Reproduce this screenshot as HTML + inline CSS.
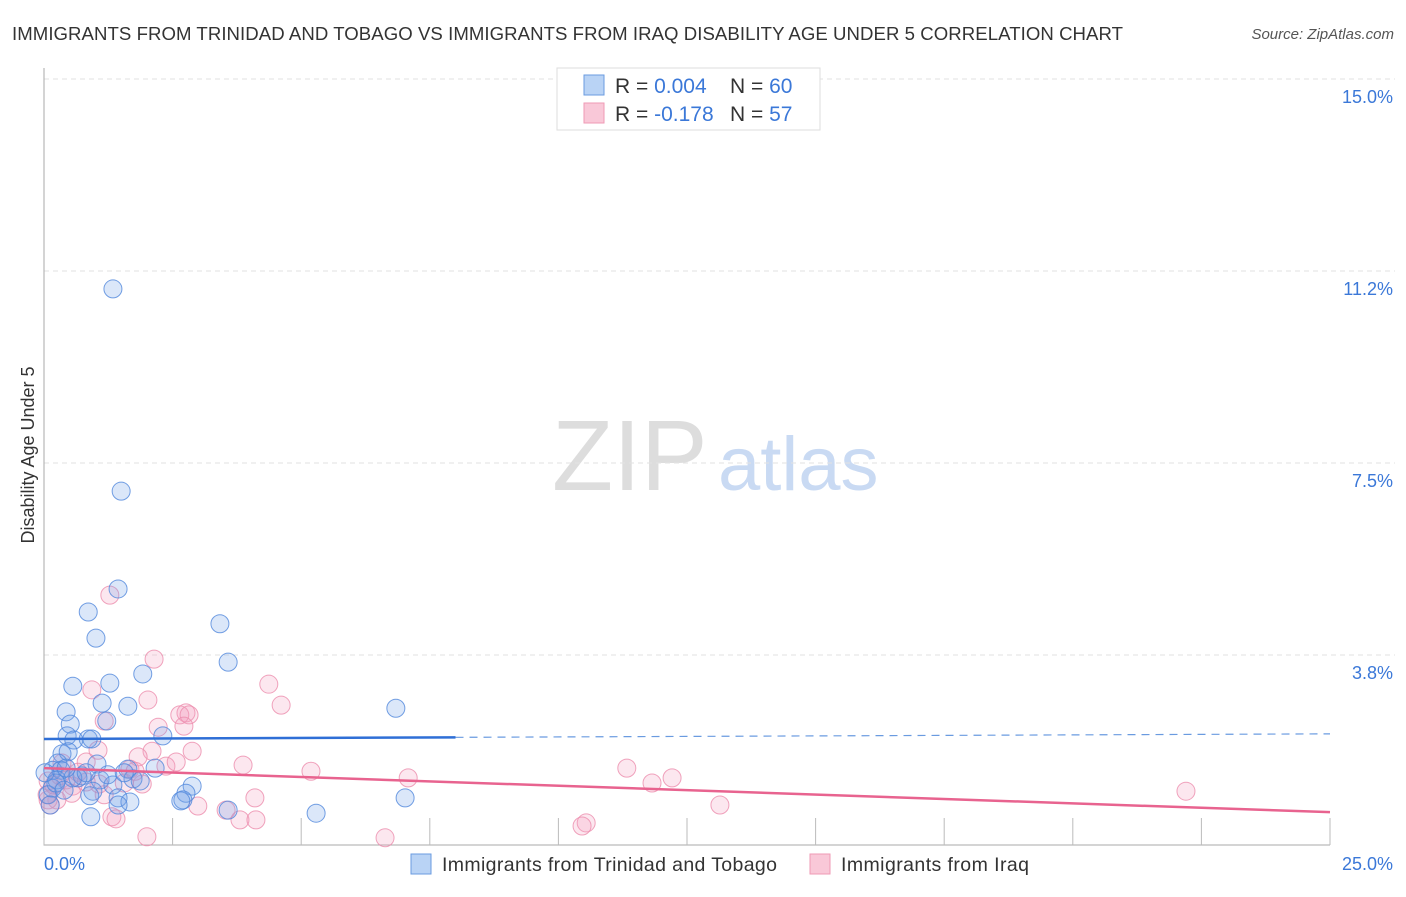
<!DOCTYPE html>
<html><head><meta charset="utf-8"><style>
body{margin:0;background:#fff;font-family:"Liberation Sans",sans-serif;}
svg text{font-family:"Liberation Sans",sans-serif;}
</style></head><body>
<svg id="chart" width="1406" height="892">
<text x="12" y="40" font-size="18.6" fill="#333" textLength="1111">IMMIGRANTS FROM TRINIDAD AND TOBAGO VS IMMIGRANTS FROM IRAQ DISABILITY AGE UNDER 5 CORRELATION CHART</text>
<text x="1394" y="39" font-size="15" fill="#555" font-style="italic" text-anchor="end">Source: ZipAtlas.com</text>
<text transform="translate(34,455) rotate(-90)" font-size="18" fill="#333" text-anchor="middle">Disability Age Under 5</text>
<g><text x="552" y="490" font-size="100" font-family="Liberation Serif" fill="#ddd">ZIP</text><text x="718" y="490" font-size="76" fill="#c9daf3">atlas</text></g>
<g id="grid"></g><g id="axes"></g><g id="pts"></g><g id="lines"></g>
<g>
<rect x="557" y="68" width="263" height="62" fill="#fff" stroke="#ddd"/>
<rect x="584" y="75" width="20" height="20" fill="#b9d3f5" stroke="#6a9be0"/>
<rect x="584" y="103" width="20" height="20" fill="#f9c8d8" stroke="#ef9ab5"/>
<text x="615" y="93" font-size="21" fill="#333">R = <tspan fill="#3b78d8">0.004</tspan><tspan x="730">N = </tspan><tspan fill="#3b78d8">60</tspan></text>
<text x="615" y="121" font-size="21" fill="#333">R = <tspan fill="#3b78d8">-0.178</tspan><tspan x="730">N = </tspan><tspan fill="#3b78d8"> 57</tspan></text>
</g>
<g>
<rect x="411" y="854" width="20" height="20" fill="#b9d3f5" stroke="#6a9be0"/>
<text x="442" y="871" font-size="19.5" fill="#333" textLength="335">Immigrants from Trinidad and Tobago</text>
<rect x="810" y="854" width="20" height="20" fill="#f9c8d8" stroke="#ef9ab5"/>
<text x="841" y="871" font-size="19.5" fill="#333" textLength="188">Immigrants from Iraq</text>
</g>
</svg>
<script>
const yTicks=[3.75,7.5,11.25,15];
const yTickLabels=["3.8%","7.5%","11.2%","15.0%"];
const xTicks=[0,2.5,5,7.5,10,12.5,15,17.5,20,22.5,25];
const blueX=[1.34,1.50,1.44,0.86,1.01,3.42,3.58,1.92,0.56,1.28,1.13,1.63,0.43,0.51,1.22,6.84,0.45,0.86,0.93,0.58,0.35,0.47,0.27,1.03,0.17,1.63,0.33,0.74,1.09,0.66,1.73,2.31,2.88,2.76,2.70,1.34,0.95,0.89,0.16,0.08,0.25,1.44,1.67,2.66,3.58,5.29,7.02,0.91,1.44,0.56,0.82,0.12,0.23,0.43,0.02,1.87,2.16,1.24,1.56,0.39];
const blueY=[10.90,6.95,5.04,4.59,4.08,4.36,3.61,3.38,3.14,3.20,2.81,2.75,2.64,2.40,2.46,2.71,2.17,2.11,2.11,2.09,1.82,1.86,1.64,1.62,1.50,1.52,1.50,1.39,1.31,1.35,1.33,2.17,1.19,1.05,0.92,1.21,1.09,1.00,1.15,1.02,1.31,0.96,0.88,0.90,0.72,0.66,0.96,0.59,0.82,1.35,1.45,0.82,1.25,1.54,1.45,1.29,1.54,1.41,1.45,1.11];
const pinkX=[1.28,2.14,0.93,2.02,4.37,4.61,2.76,2.22,1.17,2.64,2.82,2.72,2.88,2.10,1.83,2.37,2.57,3.87,5.19,7.08,11.33,11.82,12.21,22.20,13.14,10.54,10.46,6.63,2.00,3.81,3.54,4.12,4.10,2.99,1.32,1.40,1.91,1.56,1.07,0.56,0.25,0.08,0.12,0.06,0.19,0.31,0.82,0.54,0.82,1.05,1.67,1.77,0.35,0.08,0.43,1.17,0.66];
const pinkY=[4.92,3.67,3.07,2.87,3.18,2.77,2.62,2.34,2.46,2.58,2.58,2.36,1.87,1.87,1.76,1.58,1.66,1.60,1.48,1.35,1.54,1.25,1.35,1.09,0.82,0.47,0.41,0.18,0.20,0.53,0.72,0.53,0.96,0.80,0.59,0.55,1.23,1.25,1.23,1.19,0.92,0.92,0.82,1.02,1.21,1.39,1.27,1.05,1.66,1.89,1.52,1.48,1.64,1.29,1.31,1.02,1.46];
const blueFit=[2.11,0.004];
const pinkFit=[1.54,-0.0344];
const NS="http://www.w3.org/2000/svg";
const X0=44,X1=1330,Y0=847,YS=192/3.75;
const sx=v=>X0+(v/25)*(X1-X0), sy=v=>Y0-v*YS;
function mk(t,a,p){const e=document.createElementNS(NS,t);for(const k in a)e.setAttribute(k,a[k]);p.appendChild(e);return e;}
const grid=document.getElementById('grid'),axes=document.getElementById('axes');
yTicks.forEach((t,i)=>{
 const l=mk('line',{x1:X0,x2:1395,y1:sy(t),y2:sy(t),stroke:'#e2e2e2','stroke-dasharray':'5,4'},grid);
 
 
 const tx=mk('text',{x:1393,y:sy(t)+24,'font-size':18,fill:'#3b78d8','text-anchor':'end'},grid);
 tx.textContent=yTickLabels[i];
 
 
});
const ax=mk('path',{d:`M${X0} 68V845H${X1}`,stroke:'#aaa',fill:'none'},axes);


xTicks.forEach(t=>{
 const l=mk('line',{x1:sx(t),x2:sx(t),y1:818,y2:845,stroke:'#bbb'},axes);
 
 
});
const xl0=mk('text',{x:44,y:870,'font-size':18,fill:'#3b78d8'},axes);xl0.textContent="0.0%";


const xl1=mk('text',{x:1393,y:870,'font-size':18,fill:'#3b78d8','text-anchor':'end'},axes);xl1.textContent="25.0%";


const pts=document.getElementById('pts');
pinkX.forEach((v,i)=>{const c=mk('circle',{cx:sx(v),cy:sy(pinkY[i]),r:9,fill:'rgba(244,160,190,0.25)',stroke:'rgba(236,140,172,0.8)','stroke-width':1},pts);
 
 });
blueX.forEach((v,i)=>{const c=mk('circle',{cx:sx(v),cy:sy(blueY[i]),r:9,fill:'rgba(110,160,230,0.25)',stroke:'rgba(80,135,220,0.8)','stroke-width':1},pts);
 
 });
const lines=document.getElementById('lines');
const b1=mk('line',{x1:sx(0),y1:sy(blueFit[0]),x2:sx(8),y2:sy(blueFit[0]+blueFit[1]*8),stroke:'#2f6fd6','stroke-width':2.5},lines);


const b2=mk('line',{x1:sx(8),y1:sy(blueFit[0]+blueFit[1]*8),x2:sx(25),y2:sy(blueFit[0]+blueFit[1]*25),stroke:'#6a9be0','stroke-width':1.2,'stroke-dasharray':'8,6'},lines);


const p1=mk('line',{x1:sx(0),y1:sy(pinkFit[0]),x2:sx(25),y2:sy(pinkFit[0]+pinkFit[1]*25),stroke:'#e8638f','stroke-width':2.5},lines);


</script>
</body></html>
